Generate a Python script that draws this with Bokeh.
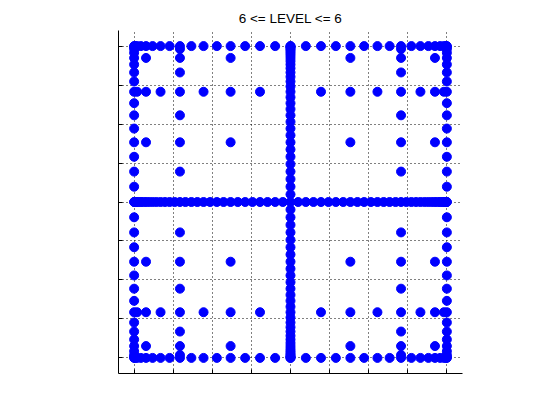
from bokeh.plotting import figure
from bokeh.models import FixedTicker, Range1d, CustomJSTickFormatter
from bokeh.embed import file_html
from bokeh.resources import INLINE

# 1-D Clenshaw-Curtis nodes, grouped by the level at which they first appear
nodes_level0 = [0.0]
nodes_level1 = [-1.0, 1.0]
nodes_level2 = [-0.707, 0.707]
nodes_level3 = [-0.924, -0.383, 0.383, 0.924]
nodes_level4 = [-0.981, -0.831, -0.556, -0.195, 0.195, 0.556, 0.831, 0.981]
nodes_level5 = [-0.995, -0.957, -0.882, -0.773, -0.634, -0.471, -0.290, -0.098,
                0.098, 0.290, 0.471, 0.634, 0.773, 0.882, 0.957, 0.995]
nodes_level6 = [-0.999, -0.989, -0.970, -0.942, -0.904, -0.858, -0.803, -0.741,
                -0.672, -0.596, -0.514, -0.428, -0.337, -0.243, -0.147, -0.049,
                0.049, 0.147, 0.243, 0.337, 0.428, 0.514, 0.596, 0.672,
                0.741, 0.803, 0.858, 0.904, 0.942, 0.970, 0.989, 0.999]
level_nodes = [nodes_level0, nodes_level1, nodes_level2, nodes_level3,
               nodes_level4, nodes_level5, nodes_level6]
max_level = 6
tick_values = [-1.0, -0.75, -0.5, -0.25, 0.0, 0.25, 0.5, 0.75, 1.0]
title_text = "6 <= LEVEL <= 6"

xs, ys = [], []
for jy, ygroup in enumerate(level_nodes):
    xpool = [x for g in level_nodes[:max_level - jy + 1] for x in g]
    for y in ygroup:
        for x in xpool:
            xs.append(x)
            ys.append(y)

p = figure(width=560, height=420, output_backend="svg", toolbar_location=None,
           x_range=Range1d(-1.1, 1.1), y_range=Range1d(-1.1, 1.1),
           min_border_left=118, min_border_right=98,
           min_border_top=30, min_border_bottom=47,
           title=title_text)
p.title.align = "center"
p.title.text_font = "Liberation Sans"
p.title.text_font_size = "13.5px"
p.title.text_font_style = "normal"
p.title.text_color = "black"

p.outline_line_color = None
p.background_fill_color = "white"
p.border_fill_color = "white"

for ax in (p.xaxis, p.yaxis):
    ax.ticker = FixedTicker(ticks=tick_values)
    ax.formatter = CustomJSTickFormatter(code="return '';")
    ax.major_label_standoff = 0
    ax.major_tick_in = 4
    ax.major_tick_out = 0
    ax.minor_tick_line_color = None
    ax.axis_line_color = "black"
    ax.major_tick_line_color = "black"

for g in (p.xgrid, p.ygrid):
    g.ticker = FixedTicker(ticks=tick_values)
    g.grid_line_color = "black"
    g.grid_line_dash = "1 3"
    g.grid_line_alpha = 1.0

p.scatter(xs, ys, size=9, color="#0000ff", line_color="#0000ff")

open("out.html", "w").write(file_html(p, INLINE))
